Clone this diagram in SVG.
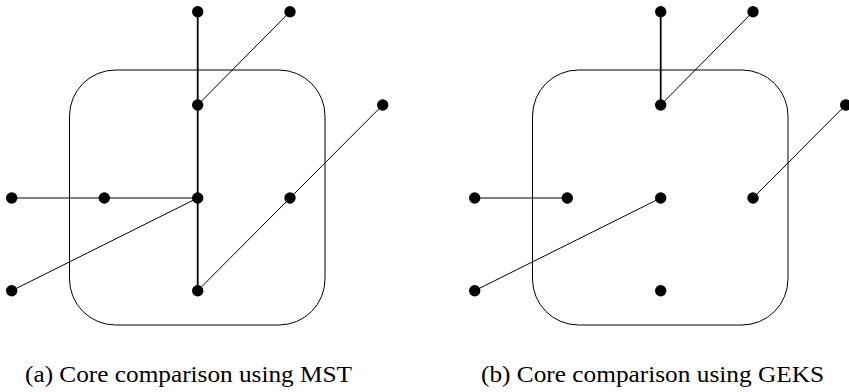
<svg xmlns="http://www.w3.org/2000/svg" width="849" height="392" viewBox="0 0 849 392">
  <style>
    .core { fill: none; stroke: #000; stroke-width: 1; }
    .thick { stroke: #000; stroke-width: 1.8; fill: none; }
    .thin { stroke: #000; stroke-width: 1; fill: none; }
    .node { fill: #000; }
    .caption { font-family: "Liberation Serif", "Times New Roman", serif; font-size: 22.5px; fill: #000; }
  </style>
  <defs>
    <circle id="dot" r="5.7" class="node"/>
  </defs>

  <!-- (a) MST -->
  <g id="panel-a">
    <rect id="a-core" class="core" x="69.5" y="70" width="255.5" height="255" rx="46" ry="46"/>
    <g id="a-edges">
      <line class="thick" x1="197.7" y1="11.7" x2="197.7" y2="105"/>
      <line class="thin" x1="197.7" y1="105" x2="290" y2="11.7"/>
      <line class="thick" x1="197.7" y1="105" x2="197.7" y2="198"/>
      <line class="thick" x1="197.7" y1="198" x2="197.7" y2="290.7"/>
      <line class="thin" x1="11.7" y1="198" x2="197.7" y2="198"/>
      <line class="thin" x1="197.7" y1="198" x2="11.7" y2="290.7"/>
      <line class="thin" x1="197.7" y1="290.7" x2="290" y2="198"/>
      <line class="thin" x1="290" y1="198" x2="382.7" y2="105"/>
    </g>
    <g id="a-n1"><use href="#dot" x="197.7" y="11.7"/></g>
    <g id="a-n2"><use href="#dot" x="290" y="11.7"/></g>
    <g id="a-n3"><use href="#dot" x="197.7" y="105"/></g>
    <g id="a-n4"><use href="#dot" x="382.7" y="105"/></g>
    <g id="a-n5"><use href="#dot" x="11.7" y="198"/></g>
    <g id="a-n6"><use href="#dot" x="104.3" y="198"/></g>
    <g id="a-n7"><use href="#dot" x="197.7" y="198"/></g>
    <g id="a-n8"><use href="#dot" x="290" y="198"/></g>
    <g id="a-n9"><use href="#dot" x="11.7" y="290.7"/></g>
    <g id="a-n10"><use href="#dot" x="197.7" y="290.7"/></g>
    <text class="caption" x="25" y="382" textLength="327" lengthAdjust="spacingAndGlyphs">(a) Core comparison using MST</text>
  </g>

  <!-- (b) GEKS -->
  <g id="panel-b" transform="translate(463,0)">
    <rect id="b-core" class="core" x="69.5" y="70" width="255.5" height="255" rx="46" ry="46"/>
    <g id="b-edges">
      <line class="thick" x1="197.7" y1="11.7" x2="197.7" y2="105"/>
      <line class="thin" x1="197.7" y1="105" x2="290" y2="11.7"/>
      <line class="thin" x1="11.7" y1="198" x2="104.3" y2="198"/>
      <line class="thin" x1="197.7" y1="198" x2="11.7" y2="290.7"/>
      <line class="thin" x1="290" y1="198" x2="382.7" y2="105"/>
    </g>
    <g id="b-n1"><use href="#dot" x="197.7" y="11.7"/></g>
    <g id="b-n2"><use href="#dot" x="290" y="11.7"/></g>
    <g id="b-n3"><use href="#dot" x="197.7" y="105"/></g>
    <g id="b-n4"><use href="#dot" x="382.7" y="105"/></g>
    <g id="b-n5"><use href="#dot" x="11.7" y="198"/></g>
    <g id="b-n6"><use href="#dot" x="104.3" y="198"/></g>
    <g id="b-n7"><use href="#dot" x="197.7" y="198"/></g>
    <g id="b-n8"><use href="#dot" x="290" y="198"/></g>
    <g id="b-n9"><use href="#dot" x="11.7" y="290.7"/></g>
    <g id="b-n10"><use href="#dot" x="197.7" y="290.7"/></g>
    <text class="caption" x="18" y="382" textLength="343" lengthAdjust="spacingAndGlyphs">(b) Core comparison using GEKS</text>
  </g>
</svg>
